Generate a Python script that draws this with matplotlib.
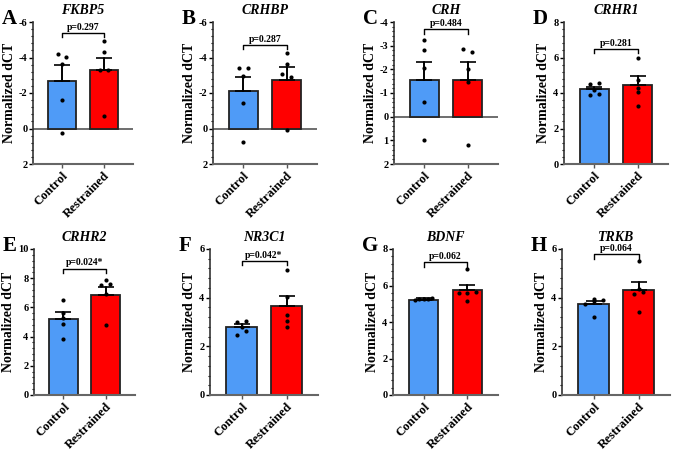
import matplotlib.pyplot as plt
from matplotlib.ticker import MultipleLocator, AutoMinorLocator

plt.rcParams['font.family'] = ['Liberation Serif', 'DejaVu Serif']
plt.rcParams['font.weight'] = 'bold'
plt.rcParams['axes.unicode_minus'] = False

genes = ['FKBP5', 'CRHBP', 'CRH', 'CRHR1', 'CRHR2', 'NR3C1', 'BDNF', 'TRKB']
letters = ['A', 'B', 'C', 'D', 'E', 'F', 'G', 'H']
groups = ['Control', 'Restrained']

ctrl_mean = [-2.65, -2.10, -1.53, 4.22, 5.20, 2.78, 5.23, 3.72]
ctrl_sem = [0.91, 0.80, 0.79, 0.14, 0.48, 0.13, 0.06, 0.13]
rest_mean = [-3.28, -2.74, -1.55, 4.46, 6.86, 3.65, 5.73, 4.32]
rest_sem = [0.72, 0.73, 0.77, 0.47, 0.57, 0.43, 0.31, 0.34]

ctrl_pts = [
    [-4.22, -4.05, -3.66, -1.60, 0.28],
    [-3.41, -3.41, -2.93, -1.43, 0.76],
    [-3.25, -2.80, -2.05, -0.61, 0.99],
    [4.52, 4.56, 4.18, 3.90, 3.95],
    [6.48, 5.60, 5.27, 4.86, 3.82],
    [3.06, 3.00, 2.78, 2.63, 2.45],
    [5.32, 5.26, 5.26, 5.24, 5.18],
    [3.90, 3.95, 3.87, 3.74, 3.21],
]
rest_pts = [
    [-4.92, -4.32, -3.28, -3.28, -0.71],
    [-4.23, -3.66, -3.05, -2.88, 0.06],
    [-2.87, -2.75, -2.02, -1.45, 1.20],
    [5.97, 4.75, 4.30, 4.03, 3.28],
    [7.89, 7.60, 7.55, 6.90, 4.77],
    [5.14, 4.01, 3.27, 3.03, 2.81],
    [6.89, 5.67, 5.60, 5.60, 5.13],
    [5.51, 4.36, 4.25, 4.14, 3.42],
]
p_labels = ['p=0.297', 'p=0.287', 'p=0.484', 'p=0.281',
            'p=0.024*', 'p=0.042*', 'p=0.062', 'p=0.064']
bracket_y = [-5.37, -4.70, -3.69, 6.47, 8.64, 5.51, 7.27, 5.78]

ylims = [(2, -6), (2, -6), (2, -4), (0, 8), (0, 10), (0, 6), (0, 8), (0, 6)]
ystep = [2, 2, 1, 2, 2, 2, 2, 2]

# axes boxes in pixels (left, top, right, bottom)
boxes = [(33, 22, 133, 164), (213, 22, 317, 164), (394, 22, 498, 164), (564, 22, 668, 164),
         (34, 249, 135, 395), (210, 249, 318, 395), (393, 249, 498, 395), (562, 249, 670, 395)]

W, H = 677, 451
fig = plt.figure(figsize=(W / 100, H / 100), dpi=100)

blue = '#4f9bf7'
red = '#ff0000'


def swarm(vals, span):
    # spread points that sit close together
    xs = [0.0] * len(vals)
    order = sorted(range(len(vals)), key=lambda i: vals[i])
    i = 0
    while i < len(order):
        j = i
        while j + 1 < len(order) and abs(vals[order[j + 1]] - vals[order[i]]) < 0.03 * span:
            j += 1
        n = j - i + 1
        step = min(0.2, 0.4 / max(n - 1, 1))
        for k in range(n):
            xs[order[i + k]] = (k - (n - 1) / 2) * step
        i = j + 1
    return xs


for i in range(8):
    l, t, r, b = boxes[i]
    ax = fig.add_axes([l / W, 1 - b / H, (r - l) / W, (b - t) / H])
    lo, hi = ylims[i]
    span = abs(hi - lo)
    ax.bar([0, 1], [ctrl_mean[i], rest_mean[i]], width=0.67, color=[blue, red],
           edgecolor='#222222', linewidth=1.3, zorder=2)
    for x, m, s in [(0, ctrl_mean[i], ctrl_sem[i]), (1, rest_mean[i], rest_sem[i])]:
        sgn = 1 if m >= 0 else -1
        ax.errorbar([x], [m + sgn * s / 2], yerr=[s / 2], fmt='none', ecolor='black',
                    elinewidth=1.2, capsize=6, capthick=1.2, zorder=3)
        ax.plot([x, x], [m, m + sgn * s], color='black', lw=1.2, zorder=3)
    for x0, pts in [(0, ctrl_pts[i]), (1, rest_pts[i])]:
        off = swarm(pts, span)
        ax.scatter([x0 + o for o in off], pts, s=9, color='black', zorder=4, linewidths=0)

    ax.set_xlim(-0.7, 1.7)
    ax.set_ylim(lo, hi)
    ax.yaxis.set_major_locator(MultipleLocator(ystep[i]))
    ax.yaxis.set_minor_locator(AutoMinorLocator(5))
    ax.set_xticks([0, 1])
    ax.set_xticklabels(groups, rotation=45, ha='right', rotation_mode='anchor',
                       fontsize=9.2, fontweight='bold')
    ax.tick_params(axis='y', which='major', labelsize=7.5, length=3, width=1, pad=1)
    ax.tick_params(axis='y', which='minor', length=1.5, width=0.8)
    ax.tick_params(axis='x', length=3, width=1, pad=1, color='#555555')
    for lab in ax.get_yticklabels():
        lab.set_fontweight('bold')
    ax.spines['top'].set_visible(False)
    ax.spines['right'].set_visible(False)
    ax.spines['left'].set_color('#333333')
    ax.spines['left'].set_linewidth(1.2)
    ax.spines['bottom'].set_color('#666666')
    ax.spines['bottom'].set_linewidth(1.5)
    if lo > hi:
        ax.axhline(0, color='#555555', lw=1.2, zorder=1)
    ax.set_ylabel('Normalized dCT', fontsize=10, fontweight='bold', labelpad=2)

    # significance bracket
    by = bracket_y[i]
    d = 0.03 * (hi - lo)
    ax.plot([0, 0, 1, 1], [by - d, by, by, by - d], color='black', lw=1, clip_on=False)
    ax.annotate(p_labels[i], (0.5, by), xytext=(0, 1), textcoords='offset points',
                ha='center', va='bottom', fontsize=7, fontweight='bold')

    ax.set_title(genes[i], fontsize=10, fontweight='bold', fontstyle='italic', pad=6)
    fig.text((l - 31) / W, 1 - (t - 13) / H, letters[i], fontsize=15, fontweight='bold',
             ha='left', va='top')

fig.savefig('out.png', dpi=100)
